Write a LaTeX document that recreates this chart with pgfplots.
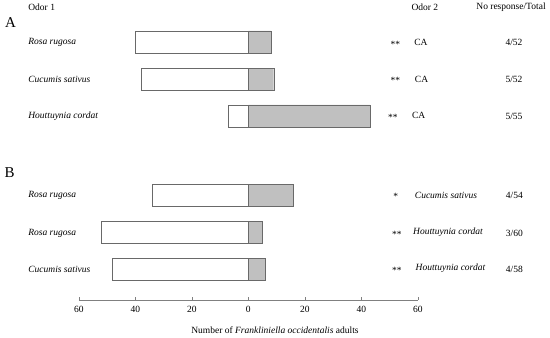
\documentclass[border=0pt]{standalone}
\usepackage{pgfplots}
\pgfplotsset{compat=1.18}
\usepackage{fontspec}
\setmainfont{Liberation Serif}
\definecolor{barfill}{RGB}{192,192,192}
\definecolor{baredge}{RGB}{105,105,105}
\begin{document}
\fontsize{9.5}{11}\selectfont
\begin{tikzpicture}
\begin{axis}[
  x=2.825pt, y=1pt,
  xmin=-60, xmax=60, ymin=38.3, ymax=330,
  axis x line=bottom, axis y line=none,
  x axis line style={-, draw=gray},
  xtick={-60,-40,-20,0,20,40,60},
  xticklabel={\pgfmathparse{abs(\tick)}\pgfmathprintnumber{\pgfmathresult}},
  /pgf/number format/assume math mode=true,
  tick style={draw=gray},
  major tick length=2.5pt,
  xtick align=inside,
  ytick=\empty,
  xticklabel style={font=\fontsize{9.5}{11}\selectfont, yshift=-3.5pt},
  clip=false,
]
% Odor 1 (white, negative side)
\addplot[xbar, bar width=22.3pt, bar shift=0pt, fill=white, draw=baredge]
  coordinates {(-40,296) (-38,258.7) (-7,222) (-34,142.5) (-52,105.5) (-48,68.7)};
% Odor 2 (gray, positive side)
\addplot[xbar, bar width=22.3pt, bar shift=0pt, fill=barfill, draw=baredge]
  coordinates {(8,296) (9,258.7) (43,222) (16,142.5) (5,105.5) (6,68.7)};

% headers
\node[anchor=west] at (axis cs:-79.04,330.5) {Odor 1};
\node at (axis cs:62.5,330.5) {Odor 2};
\node at (axis cs:93.0,330.5) {No response/Total};
% panel letters
\node[font=\fontsize{15}{16}\selectfont] at (axis cs:-84.2,315) {A};
\node[font=\fontsize{15}{16}\selectfont] at (axis cs:-84.5,165) {B};
% panel A
\node[anchor=west] at (axis cs:-79.04,295.3) {\itshape Rosa rugosa};
\node[anchor=west] at (axis cs:-79.04,258.7) {\itshape Cucumis sativus};
\node[anchor=west] at (axis cs:-79.04,222) {\itshape Houttuynia cordat};
\node at (axis cs:52.1,294) {**};
\node at (axis cs:52.1,257.4) {**};
\node at (axis cs:51.2,220.7) {**};
\node[anchor=west] at (axis cs:57.6,295.3) {CA};
\node[anchor=west] at (axis cs:57.8,258.7) {CA};
\node[anchor=west] at (axis cs:56.8,222.5) {CA};
\node at (axis cs:94.05,295.3) {4/52};
\node at (axis cs:94.05,258.7) {5/52};
\node at (axis cs:94.05,222) {5/55};
% panel B
\node[anchor=west] at (axis cs:-79.04,143) {\itshape Rosa rugosa};
\node[anchor=west] at (axis cs:-79.04,104.7) {\itshape Rosa rugosa};
\node[anchor=west] at (axis cs:-79.04,68.7) {\itshape Cucumis sativus};
\node at (axis cs:52.2,141.7) {*};
\node at (axis cs:52.6,103.4) {**};
\node at (axis cs:52.6,67.4) {**};
\node[anchor=west] at (axis cs:57.8,143) {\itshape Cucumis sativus};
\node[anchor=west] at (axis cs:57.2,105.5) {\itshape Houttuynia cordat};
\node[anchor=west] at (axis cs:58.05,69.5) {\itshape Houttuynia cordat};
\node at (axis cs:94.2,143) {4/54};
\node at (axis cs:94.2,104.7) {3/60};
\node at (axis cs:94.2,68.7) {4/58};
% x label
\node at (axis cs:9.45,7.5) {Number of \textit{Frankliniella occidentalis} adults};
% bounding box
\coordinate (bl) at (axis cs:-87.89,0);
\coordinate (tr) at (axis cs:106.8,338);
\end{axis}
\path[use as bounding box] (bl) rectangle (tr);
\end{tikzpicture}
\end{document}
